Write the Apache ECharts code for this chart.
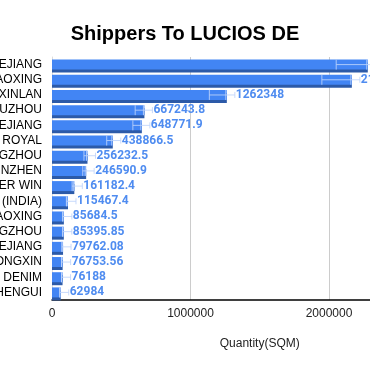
<!DOCTYPE html>
<html>
<head>
<meta charset="utf-8">
<script src="https://cdn.jsdelivr.net/npm/echarts@6/dist/echarts.min.js"></script>
<style>html,body{margin:0;padding:0;background:#fff}#c{width:370px;height:371px}</style>
</head>
<body>
<div id="c"></div>
<script>
var categories = ['EJIANG','AOXING','XINLAN','UZHOU','EJIANG','ROYAL','GZHOU','NZHEN','ER WIN','(INDIA)','AOXING','GZHOU','EJIANG','ONGXIN','DENIM','HENGUI'];
var values = [2280000, 2165000, 1262348, 667243.8, 648771.9, 438866.5, 256232.5, 246590.9, 161182.4, 115467.4, 85684.5, 85395.85, 79762.08, 76753.56, 76188, 62984];
var xTicks = [0, 1000000, 2000000, 3000000];

var chart = echarts.init(document.getElementById('c'), null, {renderer: 'canvas'});
var hData = values.map(function (v, i) { return [v, i]; });

chart.setOption({
  animation: false,
  title: {
    text: 'Shippers To LUCIOS DE',
    left: 'center',
    top: 19,
    textStyle: {fontFamily: 'Liberation Sans', fontSize: 20, fontWeight: 'bold', color: '#000'}
  },
  grid: {left: 52, width: 415.5, top: 57, height: 243, containLabel: false, outerBoundsMode: 'none'},
  xAxis: {
    type: 'value',
    min: xTicks[0],
    max: xTicks[xTicks.length - 1],
    interval: 1000000,
    name: 'Quantity(SQM)',
    nameLocation: 'middle',
    nameGap: 38,
    nameTextStyle: {fontFamily: 'Liberation Sans', fontSize: 12, color: '#222'},
    axisLine: {show: true, lineStyle: {color: '#000', width: 1.5}},
    axisTick: {show: false},
    axisLabel: {fontFamily: 'Liberation Sans', fontSize: 12, color: '#222', margin: 8,
      formatter: function (v) { return String(v); }},
    splitLine: {show: true, lineStyle: {color: '#ccc'}}
  },
  yAxis: {
    type: 'category',
    inverse: true,
    data: categories,
    axisLine: {show: true, lineStyle: {color: '#ddd'}},
    axisTick: {show: false},
    axisLabel: {fontFamily: 'Liberation Sans', fontSize: 12, color: '#000', margin: 10, interval: 0, hideOverlap: false}
  },
  series: [
    {
      type: 'bar',
      data: values,
      barWidth: 10,
      itemStyle: {
        color: '#4285f4',
        shadowColor: '#2c5aa8',
        shadowOffsetY: 3,
        shadowOffsetX: 0,
        shadowBlur: 0
      },
      label: {
        show: true,
        position: 'right',
        distance: 9,
        fontFamily: 'Roboto',
        fontWeight: 'bold',
        fontSize: 12,
        color: '#4f8cf0'
      },
      labelLayout: {hideOverlap: false},
      z: 2
    },
    {
      type: 'custom',
      data: hData,
      encode: {x: 0, y: 1},
      z: 3,
      silent: true,
      renderItem: function (params, api) {
        var v = api.value(0);
        var c = api.value(1);
        var pEnd = api.coord([v, c]);
        var pStart = api.coord([v * 0.9, c]);
        var y = pEnd[1];
        var col = 'rgba(190,212,250,0.85)';
        return {
          type: 'group',
          children: [
            {type: 'line', shape: {x1: pStart[0], y1: y - 5, x2: pStart[0], y2: y + 5}, style: {stroke: col, lineWidth: 1}},
            {type: 'line', shape: {x1: pEnd[0] - 1, y1: y - 5, x2: pEnd[0] - 1, y2: y + 5}, style: {stroke: col, lineWidth: 1}},
            {type: 'line', shape: {x1: pStart[0], y1: y, x2: pEnd[0] + 8, y2: y}, style: {stroke: col, lineWidth: 1}},
            {type: 'line', shape: {x1: pEnd[0] + 8, y1: y - 3, x2: pEnd[0] + 8, y2: y + 3}, style: {stroke: col, lineWidth: 1}}
          ]
        };
      }
    }
  ]
});
</script>
</body>
</html>
